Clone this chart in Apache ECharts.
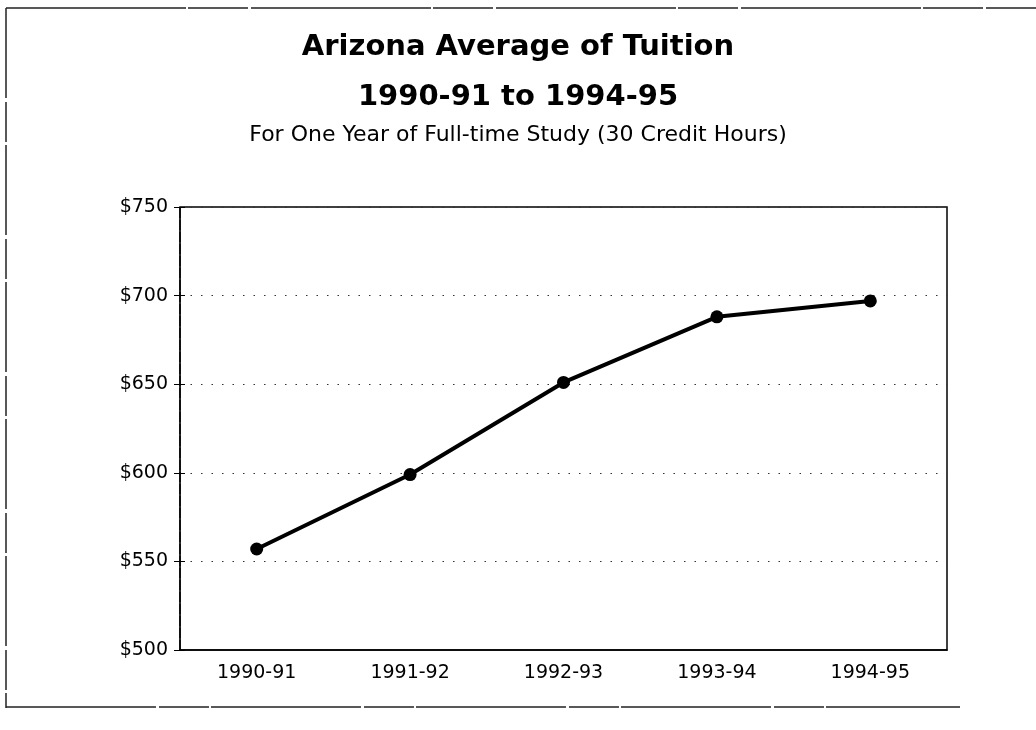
<!DOCTYPE html>
<html>
<head>
<meta charset="utf-8">
<style>
    html, body {margin: 0; padding: 0; background: #fff;}
    #main {width: 1036px; height: 730px;}
</style>
<script src="https://cdn.jsdelivr.net/npm/echarts@6/dist/echarts.min.js"></script>
</head>
<body>
<div id="main"></div>
<script>
    // data
    var years = ['1990-91', '1991-92', '1992-93', '1993-94', '1994-95'];
    var tuition = [557, 599, 651, 688, 697];
    var yTicks = [500, 550, 600, 650, 700, 750];

    var font = '"DejaVu Sans", sans-serif';

    var myChart = echarts.init(document.getElementById('main'));
    var opt = {
        backgroundColor: '#fff',
        animation: false,
        title: [{
            text: 'Arizona Average of Tuition\n1990-91 to 1994-95',
            left: 'center',
            top: 17,
            textStyle: {
                fontFamily: font,
                fontWeight: 'bold',
                fontSize: 29,
                lineHeight: 50,
                color: '#000'
            }
        }, {
            text: 'For One Year of Full-time Study (30 Credit Hours)',
            left: 'center',
            top: 119,
            textStyle: {
                fontFamily: font,
                fontWeight: 'normal',
                fontSize: 22,
                color: '#000'
            }
        }],
        grid: {
            left: 180,
            right: 89,
            top: 207,
            bottom: 80,
            show: true,
            borderColor: '#000',
            borderWidth: 1.5
        },
        xAxis: [{
            type: 'category',
            data: years,
            boundaryGap: true,
            axisLine: {lineStyle: {color: '#000', width: 1.5}},
            axisTick: {alignWithLabel: true, length: 7, lineStyle: {color: '#000'}},
            axisLabel: {
                color: '#000',
                fontFamily: font,
                fontSize: 19,
                margin: 14
            }
        }, {
            // inner half of the crossing ticks
            type: 'category',
            data: years,
            position: 'bottom',
            boundaryGap: true,
            axisLine: {show: false},
            axisTick: {alignWithLabel: true, inside: true, length: 6, lineStyle: {color: '#000'}},
            axisLabel: {show: false}
        }],
        yAxis: [{
            type: 'value',
            min: yTicks[0],
            max: yTicks[yTicks.length - 1],
            interval: 50,
            axisLine: {show: true, lineStyle: {color: '#000', width: 1.5, type: [10, 2]}},
            axisTick: {show: true, length: 6, lineStyle: {color: '#000'}},
            axisLabel: {
                color: '#000',
                fontFamily: font,
                fontSize: 19,
                margin: 12,
                formatter: function (v) {
                    return '$' + v;
                }
            },
            splitLine: {
                show: true,
                lineStyle: {color: '#333', width: 1, type: [1.5, 9]}
            }
        }, {
            type: 'value',
            position: 'left',
            min: yTicks[0],
            max: yTicks[yTicks.length - 1],
            interval: 50,
            axisLine: {show: false},
            axisTick: {show: true, inside: true, length: 5, lineStyle: {color: '#000'}},
            axisLabel: {show: false},
            splitLine: {show: false}
        }],
        series: [{
            type: 'line',
            data: tuition,
            symbol: 'circle',
            symbolSize: 13,
            lineStyle: {color: '#000', width: 4},
            itemStyle: {color: '#000'}
        }],
        graphic: [
            {type: 'line', shape: {x1: 6, y1: 8, x2: 1036, y2: 8}, style: {stroke: '#222', lineWidth: 1.5, lineDash: [180, 2, 60, 3]}},
            {type: 'line', shape: {x1: 6, y1: 8, x2: 6, y2: 708}, style: {stroke: '#222', lineWidth: 1.5, lineDash: [90, 4, 40, 3]}},
            {type: 'line', shape: {x1: 6, y1: 707, x2: 960, y2: 707}, style: {stroke: '#222', lineWidth: 1.5, lineDash: [150, 3, 50, 2]}}
        ]
    };
    myChart.setOption(opt);
</script>
</body>
</html>
